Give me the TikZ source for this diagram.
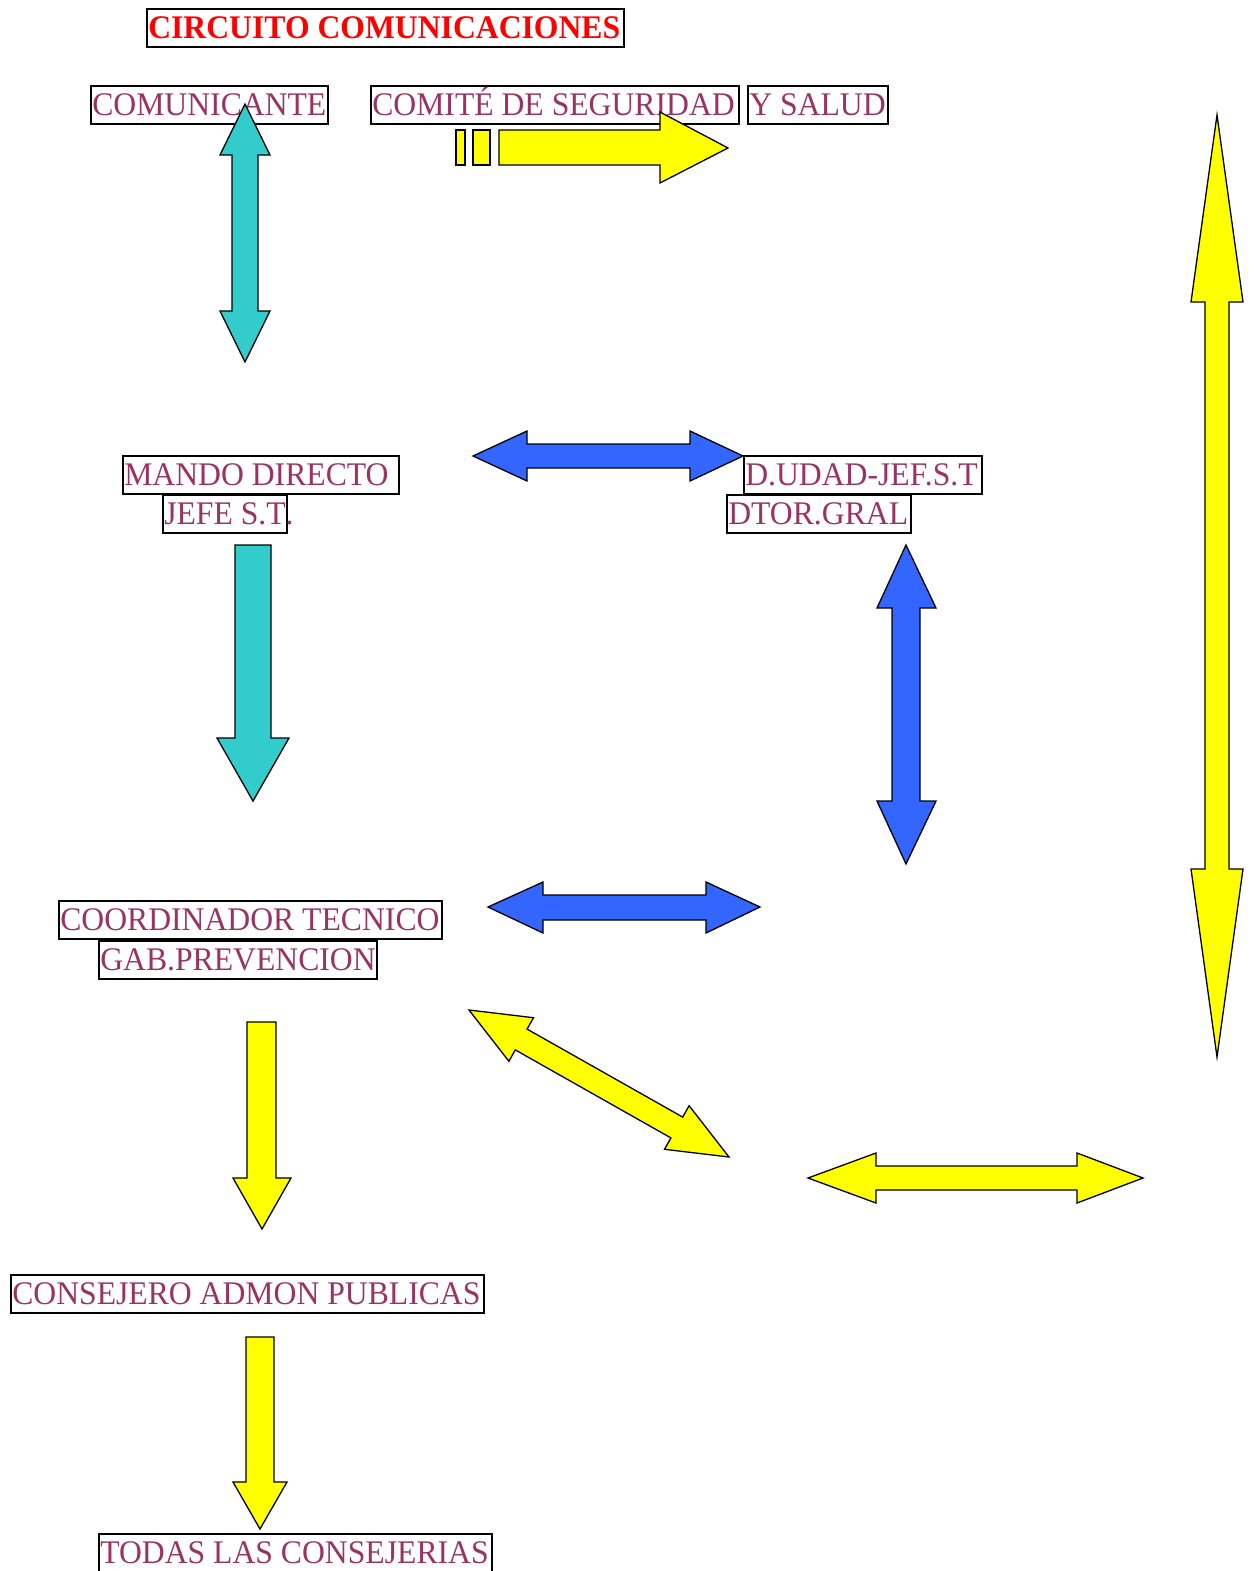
\documentclass[tikz,border=0pt]{standalone}
\usepackage{fontspec}
\setmainfont{Liberation Serif}[FakeStretch=0.96]
\definecolor{tpurple}{RGB}{153,51,102}
\definecolor{acyan}{RGB}{51,204,204}
\definecolor{ablue}{RGB}{51,102,255}
\definecolor{ayellow}{RGB}{255,255,0}
\newcommand\bxt[2]{\makebox[#1pt][l]{#2}}
\tikzset{
  box/.style={draw=black, line width=1.6pt, fill=white, text=tpurple,
    font=\fontsize{33}{36}\selectfont, inner xsep=1.5pt, inner ysep=0.5pt,
    text height=29.5pt, text depth=7.5pt, anchor=north west},
  titlebox/.style={box, text=red, font=\fontsize{33}{36}\selectfont\bfseries},
  shapearrow/.style={draw=black, line width=1.3pt, line join=miter},
  cyanarrow/.style={shapearrow, fill=acyan},
  bluearrow/.style={shapearrow, fill=ablue},
  yellowarrow/.style={shapearrow, fill=ayellow}
}
\begin{document}
\begin{tikzpicture}[x=1pt,y=-1pt]
\useasboundingbox (0,0) rectangle (1254,1571);
% boxes
\node[titlebox] (title) at (146,8) {\bxt{474}{CIRCUITO COMUNICACIONES}};
\node[box] (comunicante) at (90,85) {\bxt{234}{COMUNICANTE}};
\node[box] (comite) at (370,85) {\bxt{365}{COMITÉ DE SEGURIDAD}};
\node[box] (ysalud) at (747,85) {\bxt{137}{Y SALUD}};
\node[box] (mando) at (122,455) {\bxt{273}{MANDO DIRECTO}};
\node[box] (jefe) at (162,494) {\bxt{121}{JEFE S.T\rlap{.}}};
\node[box] (dudad) at (743,455) {\bxt{235}{D.UDAD-JEF.S.T}};
\node[box] (dtor) at (726,494) {\bxt{181}{DTOR.GRAL}};
\node[box] (coord) at (58,900) {\bxt{380}{COORDINADOR TECNICO}};
\node[box] (gab) at (98,940) {\bxt{275}{GAB.PREVENCION}};
\node[box] (consejero) at (10,1274) {\bxt{470}{CONSEJERO ADMON PUBLICAS}};
\node[box] (todas) at (98,1533) {\bxt{390}{TODAS LAS CONSEJERIAS}};
% arrows
\draw[cyanarrow] (245,104) -- (270,155) -- (258,155) -- (258,311) -- (270,311) -- (245,362)
  -- (220,311) -- (232,311) -- (232,155) -- (220,155) -- cycle;
\draw[yellowarrow] (456,130) rectangle (465,165);
\draw[yellowarrow] (473,130) rectangle (490,165);
\draw[yellowarrow] (499,130) -- (660,130) -- (660,112) -- (728,148) -- (660,183) -- (660,165) -- (499,165) -- cycle;
\draw[bluearrow] (473,456) -- (527,431) -- (527,444) -- (690,444) -- (690,431) -- (743,456)
  -- (690,481) -- (690,468) -- (527,468) -- (527,481) -- cycle;
\draw[cyanarrow] (235,545) -- (271,545) -- (271,738) -- (289,738) -- (253,801) -- (217,738) -- (235,738) -- cycle;
\draw[bluearrow] (906,545) -- (936,608) -- (920,608) -- (920,801) -- (936,801) -- (906,864)
  -- (877,801) -- (892,801) -- (892,608) -- (877,608) -- cycle;
\draw[bluearrow] (488,907) -- (543,882) -- (543,895) -- (706,895) -- (706,882) -- (760,907)
  -- (706,933) -- (706,920) -- (543,920) -- (543,933) -- cycle;
\draw[yellowarrow] (469,1010) -- (508.9,1061.3) -- (515.3,1049.9) -- (670.9,1137.9) -- (664.5,1149.3)
  -- (729,1157) -- (689.1,1105.7) -- (682.7,1117.1) -- (527.1,1029.1) -- (533.5,1017.7) -- cycle;
\draw[yellowarrow] (808,1178) -- (876,1153) -- (876,1166) -- (1077,1166) -- (1077,1153) -- (1143,1178)
  -- (1077,1203) -- (1077,1190) -- (876,1190) -- (876,1203) -- cycle;
\draw[yellowarrow] (1217,115) -- (1243,302) -- (1229,302) -- (1229,869) -- (1243,869) -- (1217,1057)
  -- (1191,869) -- (1205,869) -- (1205,302) -- (1191,302) -- cycle;
\draw[yellowarrow] (247,1022) -- (276,1022) -- (276,1178) -- (291,1178) -- (262,1229) -- (233,1178) -- (247,1178) -- cycle;
\draw[yellowarrow] (246,1337) -- (274,1337) -- (274,1482) -- (287,1482) -- (260,1529) -- (233,1482) -- (246,1482) -- cycle;
\end{tikzpicture}
\end{document}
